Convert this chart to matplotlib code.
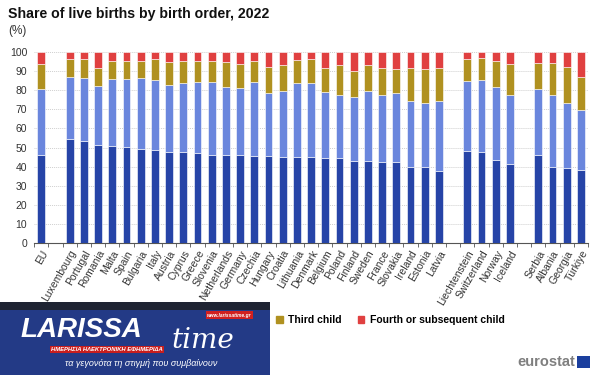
import numpy as np
import matplotlib.pyplot as plt
from matplotlib.patches import Rectangle, Patch

plt.rcParams['font.family'] = ['Liberation Sans', 'DejaVu Sans']


# =========================
# data, "" = empty slot between groups
# =========================
countries = ["EU", "",
             "Luxembourg", "Portugal", "Romania", "Malta", "Spain", "Bulgaria", "Italy",
             "Austria", "Cyprus", "Greece", "Slovenia", "Netherlands", "Germany", "Czechia",
             "Hungary", "Croatia", "Lithuania", "Denmark", "Belgium", "Poland", "Finland",
             "Sweden", "France", "Slovakia", "Ireland", "Estonia", "Latvia", "",
             "Liechtenstein", "Switzerland", "Norway", "Iceland", "",
             "Serbia", "Albania", "Georgia", "Türkiye"]

first_child = [46.0, np.nan,
               54.4, 53.7, 51.4, 50.7, 50.2, 49.5, 48.6,
               47.9, 47.6, 46.9, 46.3, 46.2, 46.2, 45.8,
               45.5, 45.1, 44.9, 44.8, 44.6, 44.4, 43.2,
               42.8, 42.3, 42.3, 40.0, 39.7, 37.6, np.nan,
               48.1, 47.7, 43.5, 41.6, np.nan,
               46.2, 40.0, 39.2, 38.1]

second_child = [34.8, np.nan,
                32.5, 33.0, 30.8, 35.1, 35.5, 36.7, 36.7,
                35.0, 36.1, 37.5, 37.8, 35.3, 34.9, 38.8,
                33.0, 34.6, 38.8, 38.9, 34.4, 33.0, 33.2,
                36.7, 35.1, 36.2, 34.5, 33.7, 36.7, np.nan,
                36.7, 37.6, 38.0, 35.8, np.nan,
                34.4, 37.6, 33.9, 31.5]

third_child = [12.9, np.nan,
               9.3, 9.6, 9.4, 9.5, 9.9, 8.9, 10.9,
               11.7, 11.4, 11.2, 11.5, 13.3, 12.6, 10.7,
               13.5, 13.5, 12.1, 12.6, 12.6, 15.8, 13.8,
               13.9, 14.4, 12.6, 17.1, 18.0, 17.5, np.nan,
               11.5, 11.6, 14.0, 16.5, np.nan,
               13.8, 16.6, 19.0, 17.5]

fourth_child = list(100 - np.array(first_child) - np.array(second_child) - np.array(third_child))

series = [first_child, second_child, third_child, fourth_child]
series_names = ["First child", "Second child", "Third child", "Fourth or subsequent child"]
colors = ["#2644A7", "#6A86DD", "#B09120", "#E04040"]


# =========================
# chart
# =========================
fig = plt.figure(figsize=(6, 3.75), dpi=100)
ax = fig.add_axes([0.057, 0.352, 0.923, 0.509])

x = np.arange(len(countries)) + 0.5
bottom = np.zeros(len(countries))
for vals, name, col in zip(series, series_names, colors):
    v = np.nan_to_num(np.array(vals, dtype=float))
    ax.bar(x, v, bottom=bottom, width=0.56, color=col, label=name,
           edgecolor="white", linewidth=0.4, zorder=3)
    bottom += v

ax.set_xlim(0, len(countries))
ax.set_ylim(0, 100)
ax.set_yticks(np.arange(0, 101, 10))
ax.yaxis.grid(True, color="#d0d0d0", linestyle=(0, (1, 1)), linewidth=0.7, zorder=0)
ax.tick_params(axis="y", length=0, labelsize=7.5, labelcolor="#333333", pad=5)

ax.set_xticks(x)
ax.set_xticklabels(countries, rotation=60, ha="right", rotation_mode="anchor",
                   fontsize=7.5, color="#333333")
ax.set_xticks(np.arange(0, len(countries) + 1), minor=True)
ax.tick_params(axis="x", which="major", length=0, pad=4)
ax.tick_params(axis="x", which="minor", length=3, color="#555555")

for s in ["top", "right", "left"]:
    ax.spines[s].set_visible(False)
ax.spines["bottom"].set_color("#555555")

fig.text(0.013, 0.962, "Share of live births by birth order, 2022",
         fontsize=10.2, fontweight="bold", va="center", color="#111111")
fig.text(0.013, 0.918, "(%)", fontsize=8.5, va="center", color="#333333")

# only the legend entries not hidden by the banner
handles = [Patch(color=c) for c in colors[2:]]
fig.legend(handles, series_names[2:], loc="center left", bbox_to_anchor=(0.445, 0.147),
           ncol=2, frameon=False, handlelength=0.6, handleheight=0.6,
           columnspacing=1.6, handletextpad=0.5,
           prop={"weight": "bold", "size": 7.5})

# eurostat mark
fig.text(0.958, 0.035, "eurostat", fontsize=10.5, color="#7f7f7f",
         ha="right", va="center", fontweight="bold")
fig.patches.append(Rectangle((0.962, 0.019), 0.022, 0.032, transform=fig.transFigure,
                             facecolor="#1b3f9e", zorder=5))

# overlaid newspaper banner
fig.patches.append(Rectangle((0, 0), 0.45, 0.195, transform=fig.transFigure,
                             facecolor="#233a86", edgecolor="none", zorder=10))
fig.patches.append(Rectangle((0, 0.173), 0.45, 0.022, transform=fig.transFigure,
                             facecolor="#1f2433", edgecolor="none", zorder=10))
fig.text(0.035, 0.12, "LARISSA", fontsize=20, fontweight="bold", style="italic",
         color="white", va="center", zorder=11)
fig.text(0.285, 0.092, "time", fontsize=20, style="italic", family="DejaVu Serif",
         color="white", va="center", zorder=11)
fig.text(0.345, 0.16, "www.larissatime.gr", fontsize=3.5, color="white",
         fontweight="bold", style="italic", va="center", zorder=12,
         bbox=dict(facecolor="#d02020", edgecolor="none", pad=0.8))
fig.text(0.085, 0.067, "ΗΜΕΡΗΣΙΑ ΗΛΕΚΤΡΟΝΙΚΗ ΕΦΗΜΕΡΙΔΑ", fontsize=4.2, color="white",
         fontweight="bold", style="italic", va="center", zorder=12,
         bbox=dict(facecolor="#c81e1e", edgecolor="none", pad=0.8))
fig.text(0.235, 0.03, "τα γεγονότα τη στιγμή που συμβαίνουν", fontsize=6.5,
         style="italic", color="white", ha="center", va="center", zorder=11)

plt.savefig("out.png", dpi=100)
